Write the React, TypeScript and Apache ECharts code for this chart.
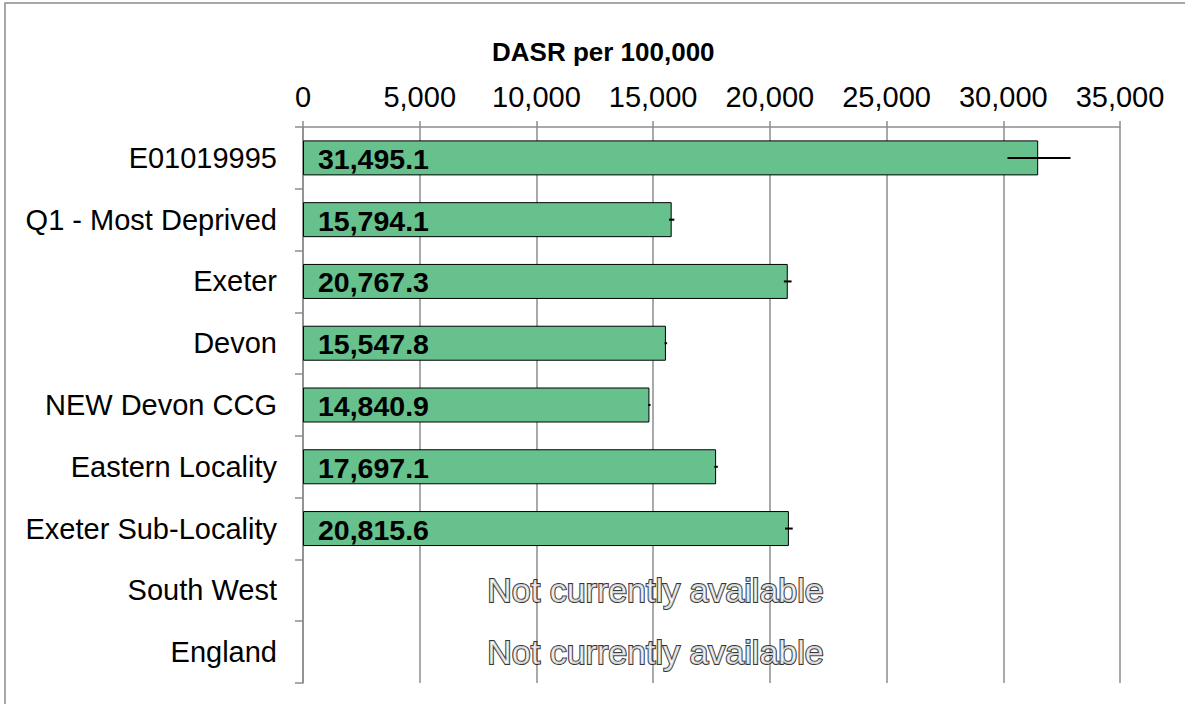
import React, { useEffect, useRef } from "react";
import * as echarts from "echarts";

const categories = [
  "E01019995",
  "Q1 - Most Deprived",
  "Exeter",
  "Devon",
  "NEW Devon CCG",
  "Eastern Locality",
  "Exeter Sub-Locality",
  "South West",
  "England",
];
const values: (number | null)[] = [31495.1, 15794.1, 20767.3, 15547.8, 14840.9, 17697.1, 20815.6, null, null];
const lowerCI: (number | null)[] = [30180, 15680, 20600, 15490, 14790, 17620, 20650, null, null];
const upperCI: (number | null)[] = [32880, 15910, 20930, 15600, 14890, 17770, 20980, null, null];
const unavailable = ["South West", "England"];
const unavailableText = "Not currently available";
const unavailableAt = 15100;
const xTicks = { min: 0, max: 35000, interval: 5000 };
const title = "DASR per 100,000";

const FONT = "'Liberation Sans', Arial, sans-serif";

export default function App() {
  const ref = useRef<HTMLDivElement>(null);
  useEffect(() => {
    if (!ref.current) return;
    const chart = echarts.init(ref.current, undefined, { renderer: "svg" });
    const errData = categories
      .map((c, i) => (lowerCI[i] != null ? [i, lowerCI[i], upperCI[i]] : null))
      .filter((d) => d != null);
    chart.setOption({
      animation: false,
      textStyle: { fontFamily: FONT },
      title: {
        text: title,
        left: 487,
        top: 34,
        textStyle: { fontFamily: FONT, fontSize: 26, fontWeight: "bold", color: "#000" },
      },
      graphic: [
        {
          type: "rect",
          shape: { x: 5, y: 3, width: 1200, height: 720 },
          style: { fill: "none", stroke: "#8c8c8c", lineWidth: 1.5 },
          silent: true,
        },
      ],
      grid: { left: 303, right: 65, top: 127, bottom: 21, containLabel: false },
      xAxis: {
        type: "value",
        position: "top",
        min: xTicks.min,
        max: xTicks.max,
        interval: xTicks.interval,
        axisLine: { show: true, lineStyle: { color: "#8c8c8c", width: 1.5 } },
        axisTick: { show: true, length: 6, lineStyle: { color: "#8c8c8c", width: 1.5 } },
        splitLine: { show: true, lineStyle: { color: "#8c8c8c", width: 1.5 } },
        axisLabel: {
          fontSize: 29,
          color: "#000",
          fontFamily: FONT,
          margin: 16,
          formatter: (v: number) => v.toLocaleString("en-US"),
        },
      },
      yAxis: {
        type: "category",
        data: categories,
        inverse: true,
        axisLine: { show: true, lineStyle: { color: "#8c8c8c", width: 1.5 } },
        axisTick: { show: true, length: 8, lineStyle: { color: "#8c8c8c", width: 1.5 } },
        axisLabel: { fontSize: 29, color: "#000", fontFamily: FONT, margin: 26 },
        splitLine: { show: false },
      },
      series: [
        {
          type: "bar",
          data: values,
          barWidth: 35,
          itemStyle: { color: "#66C18C", borderColor: "#000", borderWidth: 1 },
          label: {
            show: true,
            position: "insideLeft",
            distance: 15,
            offset: [0, 1],
            fontSize: 28.5,
            fontWeight: "bold",
            fontFamily: FONT,
            color: "#000",
            formatter: (p: any) =>
              p.value == null
                ? ""
                : Number(p.value).toLocaleString("en-US", { minimumFractionDigits: 1, maximumFractionDigits: 1 }),
          },
        },
        {
          type: "custom",
          data: errData,
          renderItem: (params: any, api: any) => {
            const cat = api.value(0);
            const lo = api.coord([api.value(1), cat]);
            const hi = api.coord([api.value(2), cat]);
            return {
              type: "line",
              shape: { x1: lo[0], y1: lo[1], x2: hi[0], y2: hi[1] },
              style: { stroke: "#000", lineWidth: 2 },
            };
          },
          encode: { x: [1, 2], y: 0 },
          z: 5,
        },
        {
          type: "scatter",
          data: unavailable.map((c) => [unavailableAt, categories.indexOf(c)]),
          symbolSize: 0,
          itemStyle: { color: "#000" },
          label: {
            show: true,
            position: "inside",
            formatter: unavailableText,
            fontSize: 34,
            fontFamily: FONT,
            color: "#ffffff",
            textBorderColor: "#000000",
            textBorderWidth: 2,
          },
          z: 6,
        },
      ],
    });
    return () => chart.dispose();
  }, []);
  return (
    <div
      ref={ref}
      style={{ position: "fixed", left: 0, top: 0, width: 1185, height: 704, background: "#fff" }}
    />
  );
}
